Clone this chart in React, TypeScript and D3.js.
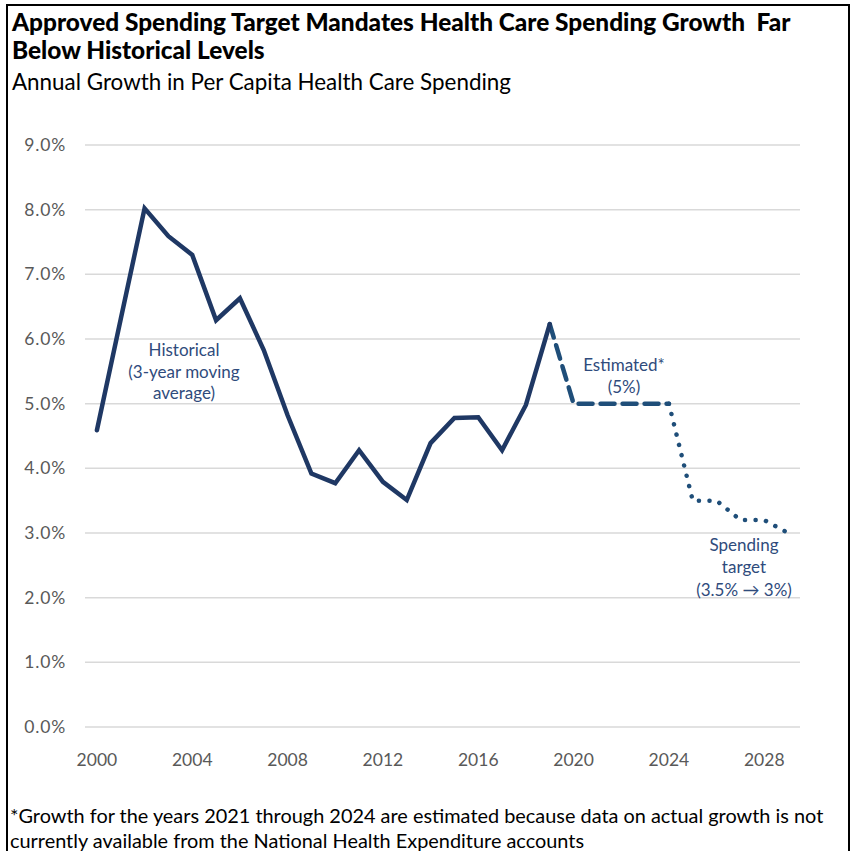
import React from "react";
import * as d3 from "d3";

const years = d3.range(2000, 2030);
const historicalYears = [2000, 2001, 2002, 2003, 2004, 2005, 2006, 2007, 2008, 2009, 2010, 2011, 2012, 2013, 2014, 2015, 2016, 2017, 2018, 2019];
const historicalValues = [4.59, 6.31, 8.02, 7.59, 7.3, 6.29, 6.63, 5.83, 4.82, 3.92, 3.77, 4.28, 3.79, 3.51, 4.39, 4.78, 4.79, 4.28, 4.98, 6.23];
const estimatedYears = [2019, 2020, 2021, 2022, 2023, 2024];
const estimatedValues = [6.23, 5.0, 5.0, 5.0, 5.0, 5.0];
const targetYears = [2024, 2025, 2026, 2027, 2028, 2029];
const targetValues = [5.0, 3.5, 3.5, 3.2, 3.2, 3.0];
const yTicks = [0, 1, 2, 3, 4, 5, 6, 7, 8, 9];
const xTickYears = [2000, 2004, 2008, 2012, 2016, 2020, 2024, 2028];

const W = 852;
const H = 851;
const FONT = "Lato, 'Open Sans', sans-serif";

export default function App() {
  const x = d3.scaleBand<number>().domain(years).range([85, 800]);
  const cx = (yr: number) => (x(yr) as number) + x.bandwidth() / 2;
  const y = d3.scaleLinear().domain([0, 9]).range([727, 145]);
  const line = d3
    .line<[number, number]>()
    .x((d) => cx(d[0]))
    .y((d) => y(d[1]));
  const hist = line(historicalYears.map((yr, i) => [yr, historicalValues[i]] as [number, number]));
  const est = line(estimatedYears.map((yr, i) => [yr, estimatedValues[i]] as [number, number]));
  const tgt = line(targetYears.map((yr, i) => [yr, targetValues[i]] as [number, number]));
  const annColor = "#2f4b7c";

  return (
    <div style={{ position: "absolute", left: 0, top: 0 }}>
      <svg width={W} height={H} style={{ display: "block", background: "#fff" }} fontFamily={FONT}>
        <rect x={0} y={0} width={W} height={H} fill="#fff" />
        {/* border */}
        <path d={`M7,${H + 5} L7,5 L849,5 L849,${H + 5}`} fill="none" stroke="#000" strokeWidth={2} />
        {/* title */}
        <text x={12} y={31} fontSize={24.4} fontWeight={900} fill="#000" style={{ whiteSpace: "pre" }}>
          Approved Spending Target Mandates Health Care Spending Growth  Far
        </text>
        <text x={12} y={59} fontSize={24.4} fontWeight={900} fill="#000">
          Below Historical Levels
        </text>
        <text x={12} y={90} fontSize={22.4} fill="#000">
          Annual Growth in Per Capita Health Care Spending
        </text>
        {/* grid */}
        {yTicks.map((t) => (
          <g key={t}>
            <line x1={85} x2={800} y1={y(t)} y2={y(t)} stroke="#d9d9d9" strokeWidth={1.5} />
            <text x={66} y={y(t)} dy="0.35em" textAnchor="end" fontSize={17.5} letterSpacing={0.8} fill="#595959">
              {t.toFixed(1) + "%"}
            </text>
          </g>
        ))}
        {xTickYears.map((yr) => (
          <text key={yr} x={cx(yr)} y={760} dy="0.35em" textAnchor="middle" fontSize={17.5} fill="#595959">
            {yr}
          </text>
        ))}
        {/* lines */}
        <path d={est ?? ""} fill="none" stroke="#1f4e79" strokeWidth={4.5} strokeDasharray="14 8" strokeLinecap="round" strokeLinejoin="round" />
        <path d={tgt ?? ""} fill="none" stroke="#1f4e79" strokeWidth={4.5} strokeDasharray="0.1 10.5" strokeLinecap="round" strokeLinejoin="round" />
        <path d={hist ?? ""} fill="none" stroke="#1f3864" strokeWidth={4.5} strokeLinejoin="miter" strokeLinecap="round" />
        {/* annotations */}
        <g fontSize={17} fill={annColor} textAnchor="middle">
          <text x={184} y={356}>Historical</text>
          <text x={184} y={378}>(3-year moving</text>
          <text x={184} y={399}>average)</text>
          <text x={624} y={371}>Estimated*</text>
          <text x={624} y={393}>(5%)</text>
          <text x={744} y={551}>Spending</text>
          <text x={744} y={573}>target</text>
          <text x={744} y={596}>(3.5% → 3%)</text>
        </g>
        {/* footnote */}
        <text x={10} y={823} fontSize={19.9} fill="#000">
          *Growth for the years 2021 through 2024 are estimated because data on actual growth is not
        </text>
        <text x={10} y={848} fontSize={19.9} fill="#000">
          currently available from the National Health Expenditure accounts
        </text>
      </svg>
    </div>
  );
}
